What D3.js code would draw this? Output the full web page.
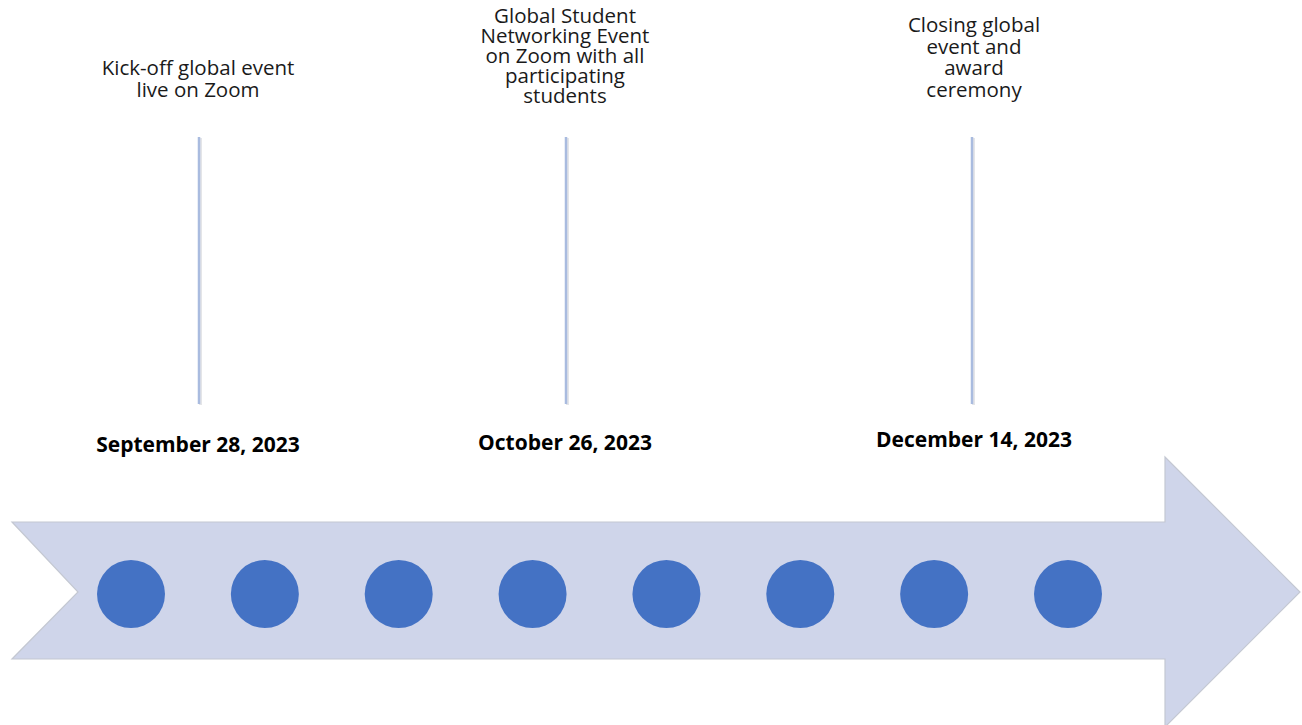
<!DOCTYPE html>
<html>
<head>
<meta charset="utf-8">
<script src="https://cdn.jsdelivr.net/npm/d3@7"></script>
<style>
  body { margin: 0; background: #fff; }
  svg { display: block; font-family: "Open Sans", sans-serif; }
</style>
</head>
<body>
<div class="js-timeline"></div>
<script>
// timeline data
let dates = ["September 28, 2023", "October 26, 2023", "December 14, 2023"];
let labels = [
    ["Kick-off global event", "live on Zoom"],
    ["Global Student", "Networking Event", "on Zoom with all", "participating", "students"],
    ["Closing global", "event and", "award", "ceremony"]
];
let steps = [1, 2, 3, 4, 5, 6, 7, 8];

let width = 1302,
    height = 725;

let svg = d3.select('.js-timeline').append("svg")
    .attr("width", width)
    .attr("height", height);

// arrow
let arrowTop = 522, arrowBottom = 659, arrowMid = 592;
let arrow = d3.path();
arrow.moveTo(12, arrowTop);
arrow.lineTo(1165, arrowTop);
arrow.lineTo(1165, 457);
arrow.lineTo(1300, arrowMid);
arrow.lineTo(1165, 727);
arrow.lineTo(1165, arrowBottom);
arrow.lineTo(12, arrowBottom);
arrow.lineTo(78, arrowMid);
arrow.closePath();

svg.append("path")
    .attr("d", arrow.toString())
    .attr("fill", "#cfd5ea")
    .attr("stroke", "#c4c8d2")
    .attr("stroke-width", 1.2);

// dots along the arrow
let x = d3.scaleLinear().domain([1, 8]).range([131, 1068]);
svg.selectAll("circle.step")
    .data(steps)
    .join("circle")
    .attr("class", "step")
    .attr("cx", d => x(d))
    .attr("cy", 594)
    .attr("r", 34)
    .attr("fill", "#4472c4");

// event positions
let ex = d3.scaleOrdinal().domain(dates).range([198, 565, 974]);
let dateY = d3.scaleOrdinal().domain(dates).range([452, 450, 447]);
let labelTop = d3.scaleOrdinal().domain(dates).range([75, 23, 32]);
let lineH = d3.scaleOrdinal().domain(dates).range([22, 20, 21.5]);
let lineX = d3.scaleOrdinal().domain(dates).range([199, 566, 972]);

let ev = svg.selectAll("g.event")
    .data(dates)
    .join("g")
    .attr("class", "event");

// shadow + line
ev.append("line")
    .attr("x1", d => lineX(d) + 1.5)
    .attr("x2", d => lineX(d) + 1.5)
    .attr("y1", 138)
    .attr("y2", 405)
    .attr("stroke", "#e4e5e8")
    .attr("stroke-width", 3);
ev.append("line")
    .attr("x1", d => lineX(d))
    .attr("x2", d => lineX(d))
    .attr("y1", 137)
    .attr("y2", 404)
    .attr("stroke", "#a9bbdf")
    .attr("stroke-width", 2.5);

ev.append("text")
    .attr("x", d => ex(d))
    .attr("y", d => dateY(d))
    .attr("text-anchor", "middle")
    .attr("font-weight", "bold")
    .attr("font-size", 21)
    .attr("fill", "#000")
    .text(d => d);

ev.append("text")
    .attr("text-anchor", "middle")
    .attr("font-size", 20.5)
    .attr("fill", "#1a1a1a")
    .selectAll("tspan")
    .data((d, i) => labels[i].map((t, j) => ({t: t, d: d, j: j})))
    .join("tspan")
    .attr("x", o => ex(o.d))
    .attr("y", o => labelTop(o.d) + o.j * lineH(o.d))
    .text(o => o.t);
</script>
</body>
</html>
